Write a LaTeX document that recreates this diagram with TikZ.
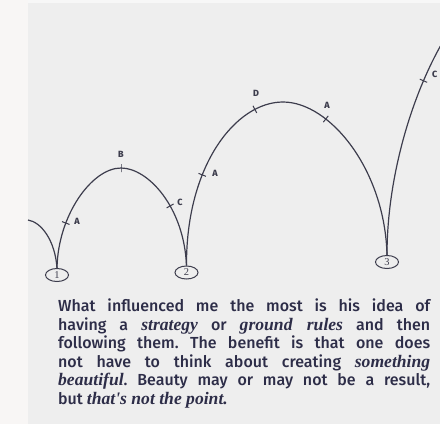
\documentclass[tikz,border=0pt]{standalone}
\usepackage{fontspec}
\setmainfont{Fira Sans}[UprightFont={* Medium}]
\newfontfamily\serit{Liberation Serif}[Scale=1.1]
\usetikzlibrary{shapes.geometric}
\definecolor{bgc}{HTML}{EEEEEE}
\definecolor{stripc}{HTML}{F8F6F5}
\definecolor{linec}{HTML}{3D3D4D}
\definecolor{textc}{HTML}{2D2D48}
\newcommand{\ser}[1]{{\serit\bfseries\itshape #1}}
\begin{document}
\begin{tikzpicture}[x=1pt,y=-1pt,
  curve/.style={draw=linec, line width=1.2pt},
  tickmark/.style={draw=linec, line width=1pt, inner sep=0pt, minimum width=0pt, minimum height=8pt, sloped, shape=rectangle},
  ticklbl/.style={font=\bfseries\fontsize{9}{9}\selectfont, text=linec, inner sep=0pt},
  numring/.style={ellipse, draw=linec, line width=1pt, minimum width=23pt, minimum height=13pt, inner sep=0pt, font=\serit\fontsize{9.5}{9.5}\selectfont, text=linec}]
% background
\fill[bgc] (0,0) rectangle (440,424);
\fill[stripc] (0,0) rectangle (28,424);
\fill[white!50!bgc] (28,0) rectangle (440,2.5);
\useasboundingbox (0,0) rectangle (440,424);
% rings
\node[numring] (n1) at (57,275) {1};
\node[numring] (n2) at (186.5,272.5) {2};
\node[numring] (n3) at (387,262) {3};
\coordinate (s0) at (28,220);
\coordinate (p1) at (121,168);
\coordinate (p2) at (283,102);
\coordinate (e3) at (441,45);
% curves
\draw[curve] (s0) .. controls (41,222) and (55,240) .. (n1.north);
\draw[curve] (n1.north) .. controls (58,215) and (92,168) .. (p1)
  node[tickmark, pos=0.3] (t1a) {}
  node[tickmark, pos=1] (t1b) {};
\draw[curve] (p1) .. controls (148,168) and (184,207) .. (n2.north)
  node[tickmark, pos=0.6] (t1c) {};
\draw[curve] (n2.north) .. controls (186,165) and (236,102) .. (p2)
  node[tickmark, pos=0.35] (t2a) {}
  node[tickmark, pos=0.8] (t2d) {};
\draw[curve] (p2) .. controls (330,102) and (385,170) .. (n3.north)
  node[tickmark, pos=0.3] (t2e) {};
\draw[curve] (n3.north) .. controls (387,180) and (410,100) .. (e3)
  node[tickmark, pos=0.8] (t3c) {};
% tick labels
\node[ticklbl] (l1a) at (77,221) {A};
\node[ticklbl] (l1b) at (121,154) {B};
\node[ticklbl] (l1c) at (180,202) {C};
\node[ticklbl] (l2a) at (215,173) {A};
\node[ticklbl] (l2d) at (256,93) {D};
\node[ticklbl] (l2e) at (327,105) {A};
\node[ticklbl, anchor=west] (l3c) at (432,74) {C};
% paragraph
\node[anchor=base west, inner sep=0pt, text width=372pt, align=justify, text=textc,
  font=\fontsize{16}{18.6}\selectfont\frenchspacing] (para) at (58,311.5)
  {What influenced me the most is his idea of\linebreak
   having a \ser{strategy} or \ser{ground rules} and then\linebreak
   following them. The benefit is that one does\linebreak
   not have to think about creating \ser{something}\linebreak
   \ser{beautiful}. Beauty may or may not be a result,\linebreak
   but \ser{that's not the point.}};
\end{tikzpicture}
\end{document}
